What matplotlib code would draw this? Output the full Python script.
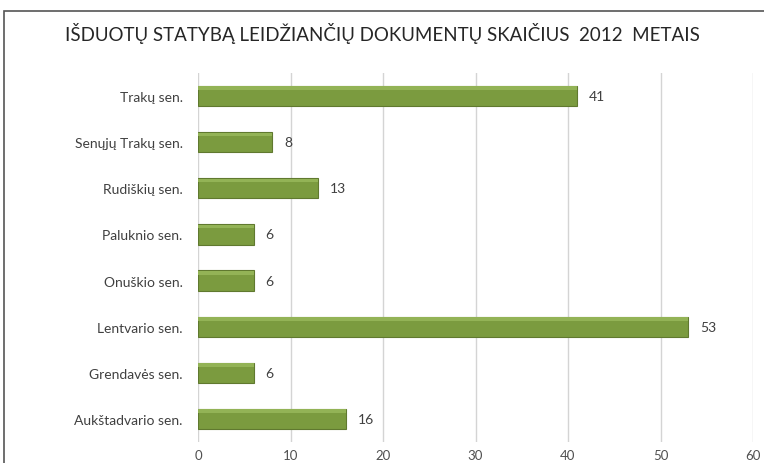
import matplotlib.pyplot as plt
from matplotlib.patches import Rectangle

title = "IŠDUOTŲ STATYBĄ LEIDŽIANČIŲ DOKUMENTŲ SKAIČIUS  2012  METAIS"
seniunijos = ["Trakų sen.", "Senųjų Trakų sen.", "Rudiškių sen.", "Paluknio sen.",
              "Onuškio sen.", "Lentvario sen.", "Grendavės sen.", "Aukštadvario sen."]
leidimai = [41, 8, 13, 6, 6, 53, 6, 16]
x_ticks = [0, 10, 20, 30, 40, 50, 60]

plt.rcParams['font.family'] = ['Lato', 'DejaVu Sans']

fig = plt.figure(figsize=(7.64, 4.64), dpi=100)
fig.patch.set_facecolor('white')

# chart frame (cut off at right and bottom like the screenshot)
fig.patches.append(Rectangle((4 / 764, -0.1), 1.1, 0.1 + (464 - 12) / 464,
                             transform=fig.transFigure, fill=False,
                             edgecolor='#555555', linewidth=1.2))

ax = fig.add_axes([198 / 764, 21 / 464, 555 / 764, 369 / 464])
y = list(range(len(seniunijos)))

ax.barh(y, leidimai, height=0.44, color='#7B9B3F', edgecolor='#60792F', linewidth=0.8, zorder=3)
# soft highlight along the top of each bar
ax.barh([v - 0.17 for v in y], leidimai, height=0.08, color='#93B356', linewidth=0, zorder=4)

for yi, v in zip(y, leidimai):
    ax.text(v + 1.3, yi, str(v), va='center', ha='left', fontsize=10, color='#404040')

ax.set_ylim(len(seniunijos) - 0.5, -0.5)
ax.set_xlim(0, 60)
ax.set_yticks(y)
ax.set_yticklabels(seniunijos, fontsize=10, color='#404040')
ax.set_xticks(x_ticks)
ax.set_xticklabels([str(t) for t in x_ticks], fontsize=9.5, color='#505050')
ax.tick_params(axis='y', length=0, pad=11)
ax.tick_params(axis='x', length=0, pad=5)
ax.xaxis.grid(True, color='#D4D4D4', linewidth=1, zorder=0)
for s in ax.spines.values():
    s.set_visible(False)

fig.text(382 / 764, 1 - 33 / 464, title, ha='center', va='center', fontsize=13.5, color='#262626')

fig.savefig('out.png', dpi=100)
